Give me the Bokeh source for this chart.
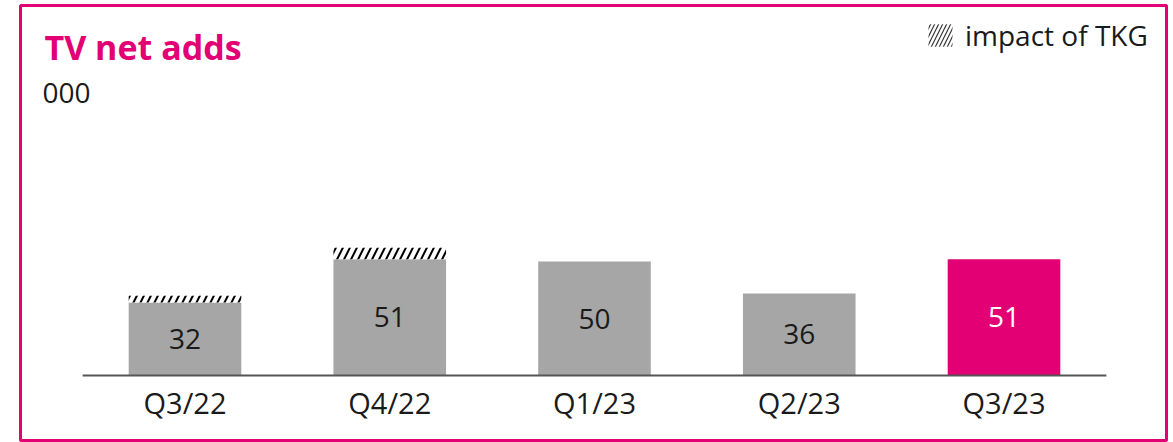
from bokeh.plotting import figure
from bokeh.models import Range1d, FixedTicker, Label, Legend, LegendItem
from bokeh.core.properties import value
from bokeh.embed import file_html
from bokeh.resources import INLINE

# ---- data ----
categories = ["Q3/22", "Q4/22", "Q1/23", "Q2/23", "Q3/23"]
net_adds = [32, 51, 50, 36, 51]
tkg_impact = [3, 5, 0, 0, 0]
bar_colors = ["#A6A6A6", "#A6A6A6", "#A6A6A6", "#A6A6A6", "#E20074"]
label_colors = ["#1A1A1A", "#1A1A1A", "#1A1A1A", "#1A1A1A", "#FFFFFF"]

PINK = "#E20074"
FONT = "Open Sans"
W, H = 1173, 442
MB_L, MB_R, MB_T, MB_B = 20, 7, 5, 2
FW, FH = W - MB_L - MB_R, H - MB_T - MB_B
PX_PER_UNIT = 2.28
BASE_FROM_BOTTOM = 65      # px from frame bottom to the baseline
X0_PX = 164.5              # px from frame left to first bar centre
X_STEP = 204.75            # px per category

xs = list(range(len(categories)))
tops = [a + b for a, b in zip(net_adds, tkg_impact)]
mids = [a / 2 for a in net_adds]

y0 = -BASE_FROM_BOTTOM / PX_PER_UNIT
p = figure(width=W, height=H, output_backend="svg", toolbar_location=None,
           x_range=Range1d(-X0_PX / X_STEP, (FW - X0_PX) / X_STEP),
           y_range=Range1d(y0, y0 + FH / PX_PER_UNIT),
           min_border_left=MB_L, min_border_right=MB_R, min_border_top=MB_T,
           min_border_bottom=MB_B)
p.outline_line_color = PINK
p.outline_line_width = 3
p.grid.visible = False
p.yaxis.visible = False
p.background_fill_color = "white"
p.border_fill_color = "white"

p.vbar(x=xs, bottom=0, top=net_adds, width=0.55, fill_color=bar_colors, line_color=None)
p.vbar(x=xs, bottom=net_adds, top=tops, width=0.55, fill_color="white",
       line_color=None, hatch_pattern="/", hatch_color="black",
       hatch_scale=14, hatch_weight=2)
# finer-hatched proxy used only for the legend swatch
legend_proxy = p.vbar(x=xs, bottom=net_adds, top=tops, width=0.55, fill_color="white",
                      line_color=None, hatch_pattern="/", hatch_color="#333333",
                      hatch_scale=8, hatch_weight=1.2, visible=False)
p.segment(x0=[-0.5], x1=[len(categories) - 0.5], y0=[0], y1=[0],
          line_color="#555555", line_width=2)
p.text(x=xs, y=mids, text=[str(v) for v in net_adds], text_color=label_colors,
       text_align="center", text_baseline="middle",
       text_font=value(FONT), text_font_size="28px")

ax = p.xaxis[0]
ax.fixed_location = 0
ax.ticker = FixedTicker(ticks=xs)
ax.major_label_overrides = {i: c for i, c in enumerate(categories)}
ax.axis_line_color = None
ax.major_tick_line_color = None
ax.minor_tick_line_color = None
ax.major_tick_out = 0
ax.major_tick_in = 0
ax.major_label_standoff = 7
ax.major_label_text_font = FONT
ax.major_label_text_font_size = "29px"
ax.major_label_text_color = "#1A1A1A"

p.add_layout(Label(x=24, y=394, x_units="screen", y_units="screen", text="TV net adds",
                   text_font=FONT, text_font_size="34px", text_font_style="bold",
                   text_color=PINK, text_baseline="alphabetic"))
p.add_layout(Label(x=22, y=348, x_units="screen", y_units="screen", text="000",
                   text_font=FONT, text_font_size="28px", text_color="#1A1A1A",
                   text_baseline="alphabetic"))

legend = Legend(items=[LegendItem(label="impact of TKG", renderers=[legend_proxy])],
                location=(905, 386), glyph_width=30, glyph_height=28,
                label_standoff=10, padding=0, margin=0, border_line_color=None,
                background_fill_alpha=0, label_text_font=FONT,
                label_text_font_size="28px", label_text_color="#1A1A1A")
p.add_layout(legend, "center")

open("out.html", "w").write(file_html(p, INLINE))
